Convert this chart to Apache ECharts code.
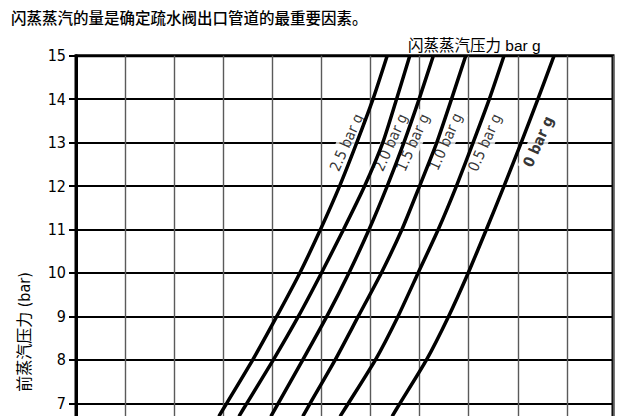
<!DOCTYPE html>
<html><head><meta charset="utf-8">
<script src="https://cdn.jsdelivr.net/npm/echarts@6/dist/echarts.min.js"></script>
<style>
html,body{margin:0;padding:0;overflow:hidden;background:#fff;width:639px;height:416px}
#main{width:639px;height:450px}
</style>
</head><body><div id="main"></div>
<script>
// ---- data ----
const titleText = '闪蒸蒸汽的量是确定疏水阀出口管道的最重要因素。';
const curveGroupTitle = '闪蒸蒸汽压力 bar g';
const yAxisName = '前蒸汽压力 (bar)';
const flashPressures = ['2.5 bar g', '2.0 bar g', '1.5 bar g', '1.0 bar g', '0.5 bar g', '0 bar g'];
// upstream pressure (bar) at which each curve was read
const upstreamPressure = [15, 14, 13, 12, 11, 10, 9, 8, 7, 6.7];
const flash25 = [6.34, 6.05, 5.72, 5.37, 4.98, 4.56, 4.09, 3.60, 3.07, 2.91];
const flash20 = [6.80, 6.53, 6.25, 5.88, 5.45, 5.00, 4.53, 4.02, 3.48, 3.32];
const flash15 = [7.28, 6.99, 6.68, 6.34, 5.97, 5.56, 5.11, 4.62, 4.12, 3.97];
const flash10 = [7.94, 7.65, 7.35, 7.00, 6.64, 6.22, 5.75, 5.28, 4.77, 4.62];
const flash05 = [8.72, 8.42, 8.09, 7.75, 7.38, 6.97, 6.56, 6.10, 5.55, 5.38];
const flash00 = [9.74, 9.41, 9.07, 8.72, 8.36, 7.99, 7.59, 7.14, 6.60, 6.44];
const curves = [flash25, flash20, flash15, flash10, flash05, flash00];
// curve label anchors (data coords)
const labelX = [5.51, 6.41, 6.86, 7.53, 8.33, 9.42];
const labelY = [13, 13, 13, 13.02, 13, 13.02];
const yMin = 6, yMax = 15, yStep = 1;
const xMin = 0, xMax = 10.94, xStep = 1;

const narrow = '"Liberation Sans Narrow", "DejaVu Sans Condensed", "Noto Sans CJK SC", sans-serif';

const chart = echarts.init(document.getElementById('main'), null, {renderer: 'svg'});

const lineSeries = curves.map((c, i) => ({
  type: 'line',
  name: flashPressures[i],
  data: upstreamPressure.map((y, j) => [c[j], y]),
  showSymbol: false,
  symbol: 'none',
  smooth: 0.2,
  z: 5,
  lineStyle: {color: '#000', width: 3.5},
  silent: true
}));

const labelSeries = {
  type: 'scatter',
  z: 1,
  symbolSize: 0,
  silent: true,
  data: flashPressures.map((n, i) => ({
    name: n,
    value: [labelX[i], labelY[i]],
    label: i === flashPressures.length - 1 ? {fontWeight: 'bold'} : {}
  })),
  label: {
    show: true,
    position: 'inside',
    formatter: p => p.name,
    rotate: 66,
    fontFamily: narrow,
    fontSize: 15,
    color: '#000',
    backgroundColor: '#fff',
    padding: [2, 3]
  }
};

chart.setOption({
  animation: false,
  backgroundColor: '#fff',
  title: [
    {text: titleText, left: 6, top: 4,
     textStyle: {fontFamily: '"Noto Sans CJK SC", sans-serif', fontSize: 15.5, fontWeight: 500, color: '#000'}},
    {text: curveGroupTitle, left: 403, top: 33,
     textStyle: {fontFamily: '"Liberation Sans", "Noto Sans CJK SC", sans-serif', fontSize: 15.5, fontWeight: 'normal', color: '#000'}}
  ],
  grid: {left: 76, top: 55.7, width: 537, height: 391.05, show: true, borderColor: '#000', borderWidth: 3, backgroundColor: 'transparent'},
  xAxis: {
    type: 'value', min: xMin, max: xMax, interval: xStep,
    axisLine: {show: false}, axisTick: {show: false}, axisLabel: {show: false},
    splitLine: {show: true, lineStyle: {color: '#5a5a5a', width: 1.4}}
  },
  yAxis: {
    type: 'value', min: yMin, max: yMax, interval: yStep,
    axisLine: {show: true, lineStyle: {color: '#000', width: 3}},
    axisTick: {show: true, inside: false, length: 7, lineStyle: {color: '#000', width: 2}},
    axisLabel: {show: true, margin: 10, fontFamily: narrow, fontSize: 16, color: '#000', showMinLabel: false},
    splitLine: {show: true, lineStyle: {color: '#000', width: 2}}
  },
  graphic: [{
    type: 'text', x: 24, y: 332, rotation: Math.PI / 2, silent: true,
    style: {text: yAxisName, fontFamily: narrow, fontSize: 16, fill: '#000', align: 'center', verticalAlign: 'middle'}
  }],
  series: [labelSeries].concat(lineSeries)
});
</script>
</body></html>
